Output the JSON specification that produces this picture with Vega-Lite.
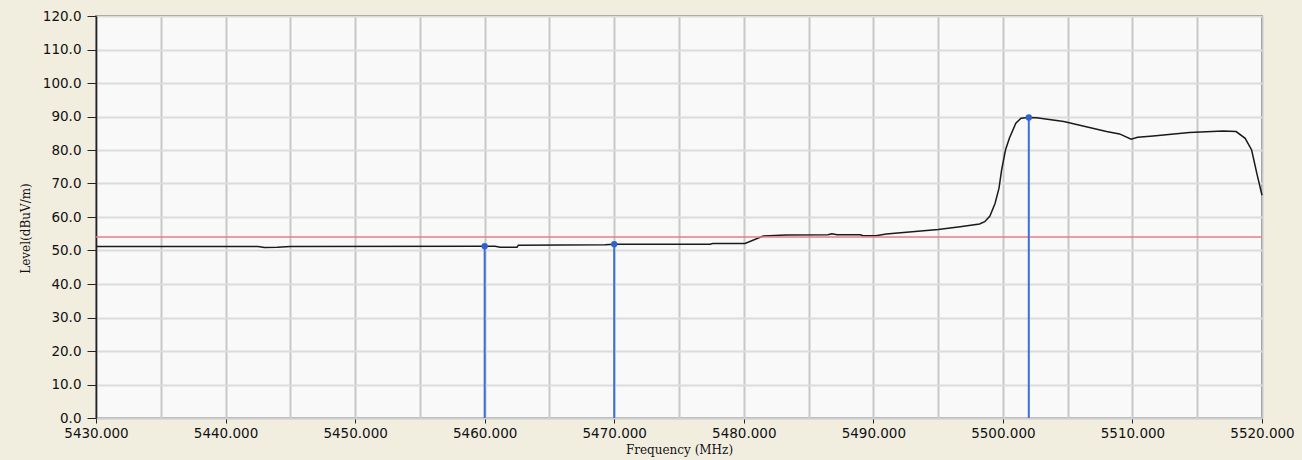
{
  "$schema": "https://vega.github.io/schema/vega-lite/v6.json",
  "width": 1166,
  "height": 402,
  "autosize": {"type": "none"},
  "padding": {"left": 96, "top": 16, "right": 40, "bottom": 42},
  "background": "#F1EEE0",
  "config": {
    "view": {"fill": "#F9F9F9", "stroke": "#555555", "strokeWidth": 1.5},
    "axis": {"labelFont": "DejaVu Sans", "labelFontSize": 13.5, "labelColor": "#111111", "titleFont": "DejaVu Serif", "titleFontSize": 12, "titleFontWeight": "normal", "titleColor": "#111111"},
    "axisY": {
      "values": [0, 10, 20, 30, 40, 50, 60, 70, 80, 90, 100, 110, 120],
      "format": ".1f",
      "labelOverlap": false, "labelFlush": false,
      "tickSize": 9, "tickColor": "#222222", "labelPadding": 6,
      "domainColor": "#222222", "domainWidth": 1.5,
      "grid": true, "gridColor": "#DCDCDC", "gridWidth": 2,
      "titleX": -71, "titleY": 212, "titleBaseline": "middle", "titleAlign": "center", "titleAngle": -90
    }
  },
  "datasets": {
    "trace": [
      {"f": 5430, "level": 51.2}, {"f": 5442.5, "level": 51.2}, {"f": 5443, "level": 50.9}, {"f": 5444, "level": 51.0}, {"f": 5445, "level": 51.2},
      {"f": 5460, "level": 51.3}, {"f": 5460.8, "level": 51.3}, {"f": 5461.2, "level": 51.0}, {"f": 5462.5, "level": 51.0}, {"f": 5462.6, "level": 51.6},
      {"f": 5469.3, "level": 51.7}, {"f": 5470, "level": 51.9}, {"f": 5477.4, "level": 51.9}, {"f": 5477.6, "level": 52.1}, {"f": 5480.1, "level": 52.1},
      {"f": 5481.5, "level": 54.3}, {"f": 5483.3, "level": 54.6}, {"f": 5486.5, "level": 54.7}, {"f": 5486.8, "level": 55.0}, {"f": 5487.2, "level": 54.7},
      {"f": 5489, "level": 54.7}, {"f": 5489.2, "level": 54.4}, {"f": 5490.2, "level": 54.4}, {"f": 5491, "level": 54.9}, {"f": 5495, "level": 56.3},
      {"f": 5496.7, "level": 57.1}, {"f": 5498.2, "level": 57.9}, {"f": 5498.6, "level": 58.6}, {"f": 5499, "level": 60.3}, {"f": 5499.4, "level": 64.1},
      {"f": 5499.7, "level": 68.6}, {"f": 5499.9, "level": 74.0}, {"f": 5500.2, "level": 80.0}, {"f": 5500.5, "level": 83.5}, {"f": 5501, "level": 88.0},
      {"f": 5501.4, "level": 89.5}, {"f": 5502, "level": 89.7}, {"f": 5502.6, "level": 89.6}, {"f": 5504.7, "level": 88.5}, {"f": 5508, "level": 85.5},
      {"f": 5509, "level": 84.8}, {"f": 5509.9, "level": 83.2}, {"f": 5510.4, "level": 83.8}, {"f": 5511.6, "level": 84.2}, {"f": 5514.4, "level": 85.2},
      {"f": 5517, "level": 85.7}, {"f": 5518, "level": 85.5}, {"f": 5518.7, "level": 83.5}, {"f": 5519.2, "level": 80.0}, {"f": 5519.6, "level": 73.0},
      {"f": 5520, "level": 66.5}
    ],
    "markers": [
      {"f": 5460, "level": 51.3},
      {"f": 5470, "level": 51.9},
      {"f": 5502, "level": 89.7}
    ],
    "limit": [{"level": 54.0}]
  },
  "layer": [
    {
      "data": {"name": "trace"},
      "mark": {"type": "line", "color": "#1a1a1a", "strokeWidth": 1.5, "interpolate": "linear"},
      "encoding": {
        "x": {
          "field": "f", "type": "quantitative",
          "scale": {"domain": [5430, 5520], "nice": false, "zero": false},
          "axis": {
            "title": "Frequency (MHz)",
            "values": [5430, 5435, 5440, 5445, 5450, 5455, 5460, 5465, 5470, 5475, 5480, 5485, 5490, 5495, 5500, 5505, 5510, 5515, 5520],
            "labelExpr": "datum.value % 10 === 0 ? format(datum.value, '.3f') : ''",
            "labelFlush": false, "labelOverlap": false,
            "tickSize": 5, "tickColor": "#222222",
            "tickOpacity": {"condition": {"test": "datum.value % 10 === 0", "value": 1}, "value": 0},
            "labelPadding": 3,
            "domainColor": "#CFCFCF", "domainWidth": 2,
            "grid": true, "gridColor": "#C8C8C8", "gridWidth": 2,
            "titleY": 31, "titleBaseline": "middle"
          }
        },
        "y": {
          "field": "level", "type": "quantitative",
          "scale": {"domain": [0, 120], "nice": false, "zero": true},
          "axis": {"title": "Level(dBuV/m)"}
        }
      }
    },
    {
      "data": {"name": "limit"},
      "mark": {"type": "rule", "color": "#EE7C7C", "strokeWidth": 1.5},
      "encoding": {"y": {"field": "level", "type": "quantitative", "axis": {"title": "Level(dBuV/m)"}}}
    },
    {
      "data": {"name": "markers"},
      "mark": {"type": "rule", "color": "#3B6FD9", "strokeWidth": 2},
      "encoding": {
        "x": {"field": "f", "type": "quantitative"},
        "y": {"field": "level", "type": "quantitative", "axis": {"title": "Level(dBuV/m)"}},
        "y2": {"datum": 0}
      }
    },
    {
      "data": {"name": "markers"},
      "mark": {"type": "point", "filled": true, "color": "#2F62CC", "size": 40, "opacity": 1},
      "encoding": {
        "x": {"field": "f", "type": "quantitative"},
        "y": {"field": "level", "type": "quantitative", "axis": {"title": "Level(dBuV/m)"}}
      }
    }
  ]
}
